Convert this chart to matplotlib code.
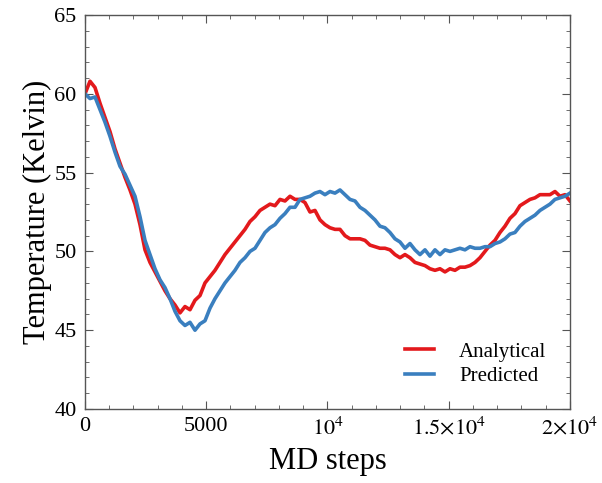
import numpy as np
import matplotlib
matplotlib.use('Agg')
import matplotlib.pyplot as plt
from matplotlib.ticker import MultipleLocator, FixedLocator, FixedFormatter

plt.rcParams['font.family'] = ['Liberation Serif', 'DejaVu Serif']
plt.rcParams['mathtext.fontset'] = 'stix'

# temperatures (regular MD step grid)
analytical = [60.0, 60.8, 60.4, 59.4, 58.5, 57.6, 56.5, 55.6, 54.7, 53.9,
              53.0, 51.7, 50.1, 49.3, 48.7, 48.1, 47.5, 47.0, 46.6, 46.1,
              46.5, 46.3, 46.9, 47.2, 48.0, 48.4, 48.8, 49.3, 49.8,
              50.2, 50.6, 51.0, 51.4, 51.9, 52.2, 52.6, 52.8, 53.0, 52.9,
              53.3, 53.2, 53.5, 53.3, 53.3, 53.1, 52.5, 52.6, 52.0, 51.7,
              51.5, 51.4, 51.4, 51.0, 50.8, 50.8, 50.8, 50.7, 50.4, 50.3,
              50.2, 50.2, 50.1, 49.8, 49.6, 49.8, 49.6, 49.3, 49.2, 49.1,
              48.9, 48.8, 48.9, 48.7, 48.9, 48.8, 49.0, 49.0, 49.1, 49.3,
              49.6, 50.0, 50.4, 50.7, 51.2, 51.6, 52.1, 52.4, 52.9, 53.1,
              53.3, 53.4, 53.6, 53.6, 53.6, 53.8, 53.5, 53.6, 53.2]
predicted = [60.0, 59.7, 59.8, 59.0, 58.2, 57.3, 56.3, 55.4, 54.9, 54.2,
             53.5, 52.2, 50.7, 49.8, 48.9, 48.2, 47.7, 47.0, 46.2, 45.6,
             45.3, 45.5, 45.0, 45.4, 45.6, 46.4, 47.0, 47.5, 48.0, 48.4,
             48.8, 49.3, 49.6, 50.0, 50.2, 50.7, 51.2, 51.5, 51.7, 52.1,
             52.4, 52.8, 52.8, 53.3, 53.4, 53.5, 53.7, 53.8, 53.6, 53.8,
             53.7, 53.9, 53.6, 53.3, 53.2, 52.8, 52.6, 52.3, 52.0, 51.6,
             51.5, 51.2, 50.8, 50.6, 50.2, 50.5, 50.1, 49.8, 50.1, 49.7,
             50.1, 49.8, 50.1, 50.0, 50.1, 50.2, 50.1, 50.3, 50.2, 50.2,
             50.3, 50.3, 50.5, 50.6, 50.8, 51.1, 51.2, 51.6, 51.9, 52.1,
             52.3, 52.6, 52.8, 53.0, 53.3, 53.4, 53.5, 53.7]
steps_a = np.linspace(0, 20000, len(analytical))
steps_p = np.linspace(0, 20000, len(predicted))

xticks = [0, 5000, 10000, 15000, 20000]
xticklabels = ['0', '5000', r'$10^4$', r'$1.5{\times}10^4$', r'$2{\times}10^4$']

fig = plt.figure(figsize=(6.02, 4.83), dpi=100)
ax = fig.add_axes([0.1412, 0.1532, 0.8056, 0.8157])

ax.plot(steps_a, analytical, color='#e3191c', lw=2.6, label='Analytical')
ax.plot(steps_p, predicted, color='#3a7fbf', lw=2.6, label='Predicted')

ax.set_xlim(0, 20000)
ax.set_ylim(40, 65)
ax.xaxis.set_major_locator(FixedLocator(xticks))
ax.xaxis.set_major_formatter(FixedFormatter(xticklabels))
ax.xaxis.set_minor_locator(MultipleLocator(1000))
ax.yaxis.set_major_locator(MultipleLocator(5))
ax.yaxis.set_minor_locator(MultipleLocator(1))
ax.tick_params(which='both', direction='in', top=True, right=True,
               color='#555555', labelsize=16, labelcolor='black')
ax.tick_params(which='major', length=6, pad=6)
ax.tick_params(which='minor', length=3)
for s in ax.spines.values():
    s.set_color('#555555')
    s.set_linewidth(1.0)

ax.set_xlabel('MD steps', fontsize=22, labelpad=5)
ax.set_ylabel('Temperature (Kelvin)', fontsize=22, labelpad=2)

ax.legend(loc='lower right', bbox_to_anchor=(0.99, 0.01), frameon=False,
          fontsize=15, handlelength=1.4, handletextpad=1.2,
          labelspacing=0.25)

fig.savefig('out.png', dpi=100)
